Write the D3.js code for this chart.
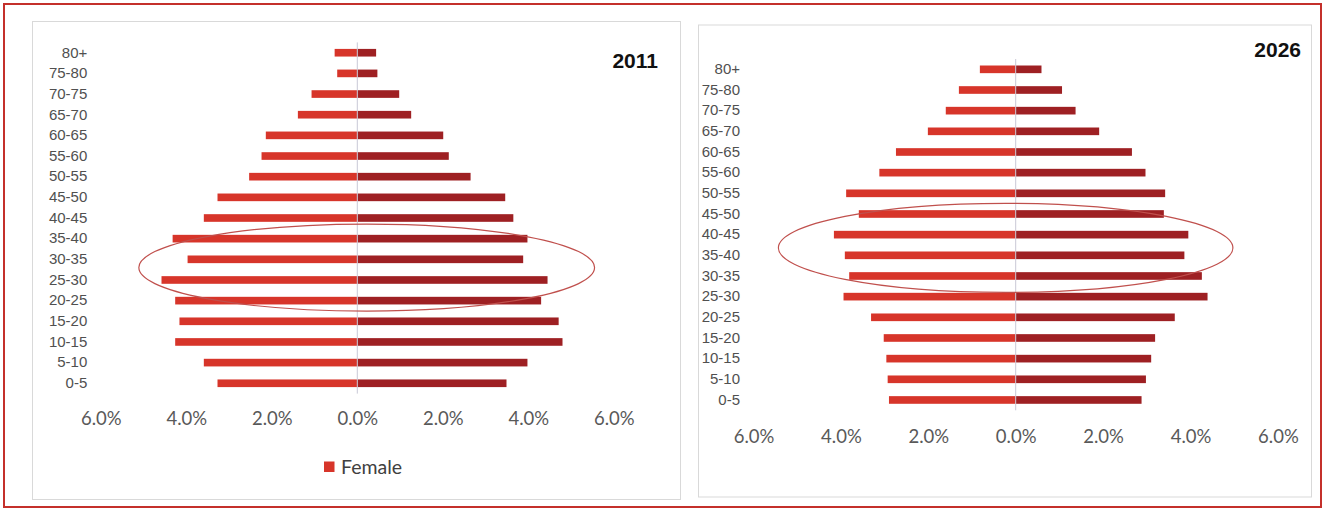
<!DOCTYPE html>
<html>
<head>
<meta charset="utf-8">
<script src="https://cdn.jsdelivr.net/npm/d3@7"></script>
<style>
  html, body { margin: 0; padding: 0; background: #ffffff; }
  svg { display: block; }
</style>
</head>
<body>
<svg id="chart" width="1325" height="512"></svg>
<script>
// ---- data (percent of population) ----
const ageGroups = ["0-5","5-10","10-15","15-20","20-25","25-30","30-35","35-40","40-45","45-50","50-55","55-60","60-65","65-70","70-75","75-80","80+"];
const female2011 = [3.27, 3.59, 4.26, 4.16, 4.26, 4.58, 3.97, 4.32, 3.59, 3.27, 2.53, 2.24, 2.14, 1.39, 1.07, 0.47, 0.53];
const male2011   = [3.49, 3.98, 4.80, 4.71, 4.30, 4.45, 3.88, 3.98, 3.65, 3.46, 2.65, 2.14, 2.01, 1.26, 0.98, 0.47, 0.44];
const female2026 = [2.90, 2.93, 2.96, 3.02, 3.31, 3.94, 3.81, 3.91, 4.16, 3.59, 3.88, 3.12, 2.74, 2.01, 1.60, 1.30, 0.82];
const male2026   = [2.88, 2.98, 3.10, 3.19, 3.64, 4.39, 4.26, 3.86, 3.95, 3.39, 3.42, 2.97, 2.66, 1.91, 1.37, 1.06, 0.59];
const xTicks = [-6, -4, -2, 0, 2, 4, 6];
const legendLabel = "Female";

const femaleColor = "#D7352A";
const maleColor = "#9E2023";

const svg = d3.select("#chart");

// outer red frame
svg.append("rect").attr("x", 4).attr("y", 4).attr("width", 1317).attr("height", 503)
  .attr("fill", "none").attr("stroke", "#C4302B").attr("stroke-width", 2);

const panels = [
  { title: "2011", female: female2011, male: male2011,
    box: [32.5, 21.5, 648, 478], xRange: [100.8, 613.8], yRange: [393.6, 42.4],
    titleX: 658, titleY: 67.5, tickY: 426, legend: true,
    ell: { cx: 0.22, cat: "30-35", off: 0.4, rx: 5.33, ry: 43.5 } },
  { title: "2026", female: female2026, male: male2026,
    box: [698.5, 25, 613, 472], xRange: [753.5, 1277.9], yRange: [410.3, 59],
    titleX: 1301, titleY: 56.5, tickY: 443.5, legend: false,
    ell: { cx: -0.23, cat: "40-45", off: 0.64, rx: 5.2, ry: 44.5 } }
];

panels.forEach(p => {
  const g = svg.append("g");
  g.append("rect").attr("x", p.box[0]).attr("y", p.box[1]).attr("width", p.box[2]).attr("height", p.box[3])
    .attr("fill", "#ffffff").attr("stroke", "#D9D9D9").attr("stroke-width", 1);

  const x = d3.scaleLinear().domain([-6, 6]).range(p.xRange);
  const y = d3.scaleBand().domain(ageGroups).range(p.yRange).paddingInner(0).paddingOuter(0);
  const bh = y.bandwidth() * 0.37;

  // female bars (left)
  g.selectAll(".f").data(ageGroups).join("rect")
    .attr("x", (d, i) => x(-p.female[i]))
    .attr("width", (d, i) => x(0) - x(-p.female[i]))
    .attr("y", d => y(d) + (y.bandwidth() - bh) / 2)
    .attr("height", bh)
    .attr("fill", femaleColor);
  // male bars (right)
  g.selectAll(".m").data(ageGroups).join("rect")
    .attr("x", x(0))
    .attr("width", (d, i) => x(p.male[i]) - x(0))
    .attr("y", d => y(d) + (y.bandwidth() - bh) / 2)
    .attr("height", bh)
    .attr("fill", maleColor);

  // zero line
  g.append("line").attr("x1", x(0)).attr("x2", x(0))
    .attr("y1", p.yRange[1]).attr("y2", p.yRange[0])
    .attr("stroke", "#C9C8D6").attr("stroke-width", 1);

  // category axis (left)
  const yAxis = g.append("g").attr("transform", `translate(${p.xRange[0] - 13.5},0)`)
    .call(d3.axisLeft(y).tickSize(0).tickPadding(0));
  yAxis.select(".domain").remove();
  yAxis.selectAll("text").attr("font-family", "'Liberation Sans', Arial, sans-serif")
    .attr("font-size", 15).attr("fill", "#505050");

  // value axis (bottom)
  const xAxis = g.append("g").attr("transform", `translate(0,${p.tickY - 14})`)
    .call(d3.axisBottom(x).tickValues(xTicks).tickSize(0).tickPadding(0)
      .tickFormat(v => Math.abs(v).toFixed(1) + "%"));
  xAxis.select(".domain").remove();
  xAxis.selectAll("text").attr("font-family", "Lato, 'Open Sans', sans-serif")
    .attr("font-size", 18.5).attr("fill", "#595959").attr("dy", "0.71em");

  // title
  g.append("text").attr("x", p.titleX).attr("y", p.titleY).attr("text-anchor", "end")
    .attr("font-family", "'Liberation Sans', Arial, sans-serif").attr("font-weight", "bold")
    .attr("font-size", 21).attr("fill", "#111111").text(p.title);

  // highlight ellipse
  g.append("ellipse")
    .attr("cx", x(p.ell.cx))
    .attr("cy", y(p.ell.cat) + y.bandwidth() / 2 + p.ell.off * y.bandwidth())
    .attr("rx", x(p.ell.rx) - x(0))
    .attr("ry", p.ell.ry)
    .attr("fill", "none").attr("stroke", "#C0504D").attr("stroke-width", 1.2);

  if (p.legend) {
    const lg = g.append("g").attr("transform", "translate(324,461.5)");
    lg.append("rect").attr("width", 10.5).attr("height", 10.5).attr("fill", femaleColor);
    lg.append("text").attr("x", 17).attr("y", 12).attr("font-family", "Lato, 'Open Sans', sans-serif")
      .attr("font-size", 19.5).attr("fill", "#404040").text(legendLabel);
  }
});
</script>
</body>
</html>
